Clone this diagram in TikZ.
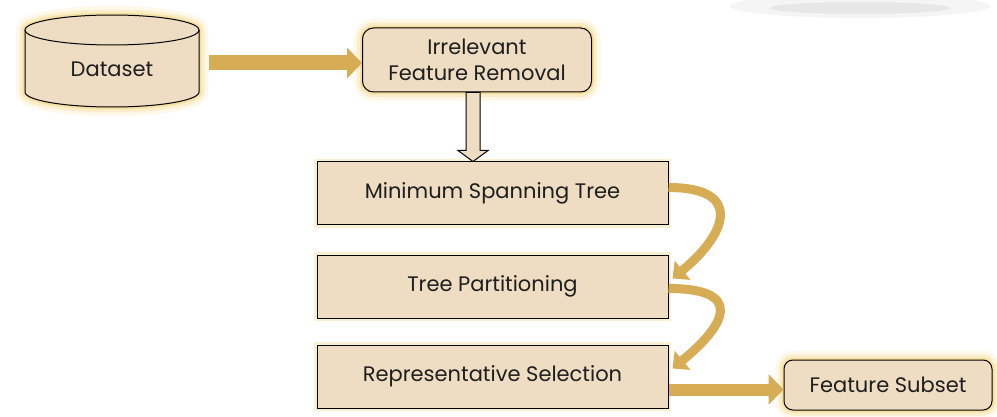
\documentclass[tikz,border=0pt]{standalone}
\usepackage{fontspec}
\setmainfont{Poppins}
\usetikzlibrary{arrows.meta,calc}

\definecolor{boxfill}{HTML}{EEDDC2}
\definecolor{arrowgold}{HTML}{D6AC55}
\definecolor{glowc}{HTML}{F0CF70}
\definecolor{txt}{HTML}{1E1E1E}

\tikzset{
  glow/.style={preaction={draw=glowc,line width=18pt,opacity=0.15,line join=round},
               preaction={draw=glowc,line width=11pt,opacity=0.25,line join=round},
               preaction={draw=glowc,line width=5pt,opacity=0.45,line join=round}},
  softglow/.style={preaction={draw=glowc,line width=6pt,opacity=0.3}},
  stepbox/.style={draw=black,line width=1pt,fill=boxfill,text=txt,
                  minimum width=351pt,minimum height=63pt,inner sep=0pt,
                  font=\fontsize{21}{24}\selectfont,softglow},
  roundbox/.style={draw=black,line width=1pt,fill=boxfill,text=txt,
                   rounded corners=11pt,inner sep=0pt,align=center,
                   font=\fontsize{21}{26}\selectfont,glow},
  fatarrow/.style={draw=arrowgold,line width=15pt,-{Triangle[width=30pt,length=15pt]}},
  curvearrow/.style={draw=arrowgold,line width=9pt,-{Triangle[width=24pt,length=13pt]}},
  hollowarrow/.style={draw=black,line width=1pt,fill=boxfill,line join=miter}
}

\begin{document}
\begin{tikzpicture}[x=1pt,y=-1pt]
\path[use as bounding box] (0,0) rectangle (997,417);

% faint shadow at the top edge
\fill[black,opacity=0.04] (860,6) ellipse [x radius=130,y radius=12];
\fill[black,opacity=0.06] (860,8) ellipse [x radius=90,y radius=6];

% dataset cylinder
\path[glow,draw=black,line width=1pt,fill=boxfill]
  (25,92) -- (25,30) arc[start angle=180,end angle=360,x radius=87,y radius=15]
  -- (199,92) arc[start angle=0,end angle=180,x radius=87,y radius=15] -- cycle;
\draw[line width=1pt] (25,30) arc[start angle=180,end angle=0,x radius=87,y radius=15];
\node[text=txt,font=\fontsize{21}{24}\selectfont,minimum width=174pt,inner sep=0pt] (dataset) at (112,69) {Dataset};

\node[roundbox,minimum width=229pt,minimum height=64pt] (irr) at (477,60) {Irrelevant\\Feature Removal};

\node[stepbox] (mst) at (492.5,193.5) {Minimum Spanning Tree};
\node[stepbox] (tp) at (492.5,286.5) {Tree Partitioning};
\node[stepbox] (rs) at (492.5,376.5) {Representative Selection};

\node[roundbox,minimum width=208pt,minimum height=50pt,rounded corners=9pt] (fs) at (888,385) {Feature Subset};

% connectors
\coordinate (dsout) at ($(dataset.east)+(10,-6)$);
\draw[fatarrow] (dsout) -- (dsout -| irr.west);

\coordinate (irrb) at ($(irr.south)+(-4,0)$);
\coordinate (mstt) at (irrb |- mst.north);
\path[hollowarrow] ($(irrb)+(-7,0)$) -- ($(mstt)+(-7,-11)$) -- ($(mstt)+(-15,-11)$)
  -- (mstt) -- ($(mstt)+(15,-11)$) -- ($(mstt)+(7,-11)$) -- ($(irrb)+(7,0)$) -- cycle;

\draw[curvearrow] ($(mst.east)+(0,-6)$) .. controls +(75,0) and +(55,-45) .. ($(tp.east)+(4,-8)$);
\draw[curvearrow] ($(tp.east)+(0,2)$) .. controls +(75,0) and +(55,-45) .. ($(rs.east)+(4,-8)$);

\coordinate (rsout) at ($(rs.east)+(0,13)$);
\draw[fatarrow,line width=12pt] (rsout) -- (rsout -| fs.west);
\end{tikzpicture}
\end{document}
